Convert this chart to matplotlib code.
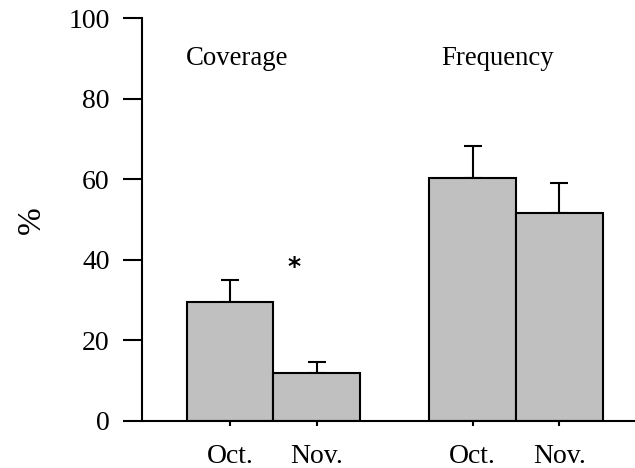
import matplotlib
matplotlib.use("Agg")
import matplotlib.pyplot as plt

# values
positions = [0, 1, 2.8, 3.8]
tick_labels = ["Oct.", "Nov.", "Oct.", "Nov."]
means = [29.4, 11.9, 60.4, 51.7]
errors = [5.6, 2.6, 8.0, 7.4]

plt.rcParams["font.family"] = ["Liberation Serif", "DejaVu Serif"]

fig = plt.figure(figsize=(6.35, 4.68), dpi=100)
ax = fig.add_axes([0.2244, 0.1011, 0.7736, 0.8594])

ax.bar(positions, means, width=1.0, color="#c0c0c0", edgecolor="black",
       linewidth=1.5, zorder=2)
ax.errorbar(positions, means, yerr=[[0] * len(errors), errors], fmt="none",
            ecolor="black", elinewidth=1.5, capsize=6.5, capthick=1.5, zorder=1)

ax.set_xlim(-1.01, 4.66)
ax.set_ylim(0, 100)
ax.set_yticks([0, 20, 40, 60, 80, 100])
ax.set_xticks(positions)
ax.set_xticklabels(tick_labels)

ax.spines["top"].set_visible(False)
ax.spines["right"].set_visible(False)
ax.spines["left"].set_linewidth(1.5)
ax.spines["bottom"].set_linewidth(1.5)
ax.tick_params(axis="y", direction="out", length=13.7, width=1.5,
               labelsize=20, pad=10)
ax.tick_params(axis="x", direction="out", length=3.5, width=1.5,
               labelsize=20, pad=13.6)

ax.set_ylabel("%", fontsize=24)
ax.yaxis.set_label_coords(-0.194, 0.499)

ax.text(0.087, 88.5, "Coverage", ha="center", va="baseline", fontsize=19.3)
ax.text(3.085, 88.5, "Frequency", ha="center", va="baseline", fontsize=19.3)
ax.text(0.74, 38.3, "*", ha="center", va="center", fontsize=18,
        fontweight="bold", family="DejaVu Sans")

fig.savefig("out.png", dpi=100)
